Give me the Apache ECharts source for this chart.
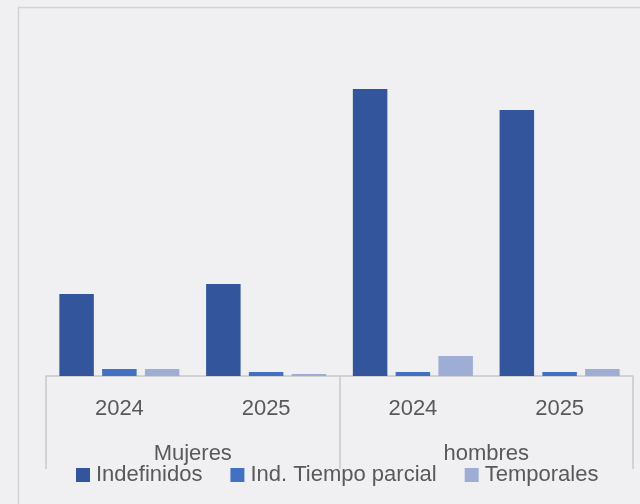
<!DOCTYPE html>
<html>
<head>
<meta charset="utf-8">
<script src="https://cdn.jsdelivr.net/npm/echarts@6/dist/echarts.min.js"></script>
<style>
html,body{margin:0;padding:0;background:#F0F0F2;}
#c{width:640px;height:504px;}
</style>
</head>
<body>
<div id="c"></div>
<script>
const years = ['2024', '2025', '2024', '2025'];
const groups = ['Mujeres', 'hombres'];
const seriesNames = ['Indefinidos', 'Ind. Tiempo parcial', 'Temporales'];
const indefinidos = [82, 92, 287, 266];
const tiempoParcial = [7, 4, 4, 4];
const temporales = [7, 2, 20, 7];

const colors = ['#32559C', '#4270C2', '#9DADD4'];
const txt = '#595959';
const font = 'Liberation Sans';

const chart = echarts.init(document.getElementById('c'));
chart.setOption({
  backgroundColor: '#F0F0F2',
  animation: false,
  textStyle: { fontFamily: font },
  graphic: [{
    type: 'rect', silent: true,
    shape: { x: 18.5, y: 7.5, width: 700, height: 600 },
    style: { fill: 'none', stroke: '#D2D2D4', lineWidth: 1.5 }
  }],
  grid: { left: 46, right: 7, top: 26, bottom: 128, containLabel: false },
  legend: {
    data: seriesNames,
    left: 76, top: 464, padding: 0,
    icon: 'rect', itemWidth: 14, itemHeight: 14, itemGap: 28,
    textStyle: { color: txt, fontSize: 22, fontFamily: font, padding: [0, 0, 0, 1] }
  },
  xAxis: [{
    type: 'category', data: years, position: 'bottom', offset: 0,
    axisLine: { show: true, lineStyle: { color: '#C8C8CA', width: 1.5 } },
    axisTick: { show: false },
    axisLabel: { color: txt, fontSize: 22, fontFamily: font, margin: 22 }
  }, {
    type: 'category', data: groups, position: 'bottom', offset: 0,
    axisLine: { show: false },
    axisTick: { show: true, length: 93, lineStyle: { color: '#C8C8CA', width: 1.5 } },
    axisLabel: { color: txt, fontSize: 22, fontFamily: font, margin: 67 }
  }],
  yAxis: {
    type: 'value', min: 0, max: 350, show: false,
    splitLine: { show: false }
  },
  series: [
    { name: seriesNames[0], type: 'bar', data: indefinidos, itemStyle: { color: colors[0] }, barWidth: 34.5, barGap: '24%' },
    { name: seriesNames[1], type: 'bar', data: tiempoParcial, itemStyle: { color: colors[1] }, barWidth: 34.5, barGap: '24%' },
    { name: seriesNames[2], type: 'bar', data: temporales, itemStyle: { color: colors[2] }, barWidth: 34.5, barGap: '24%' }
  ]
});
</script>
</body>
</html>
